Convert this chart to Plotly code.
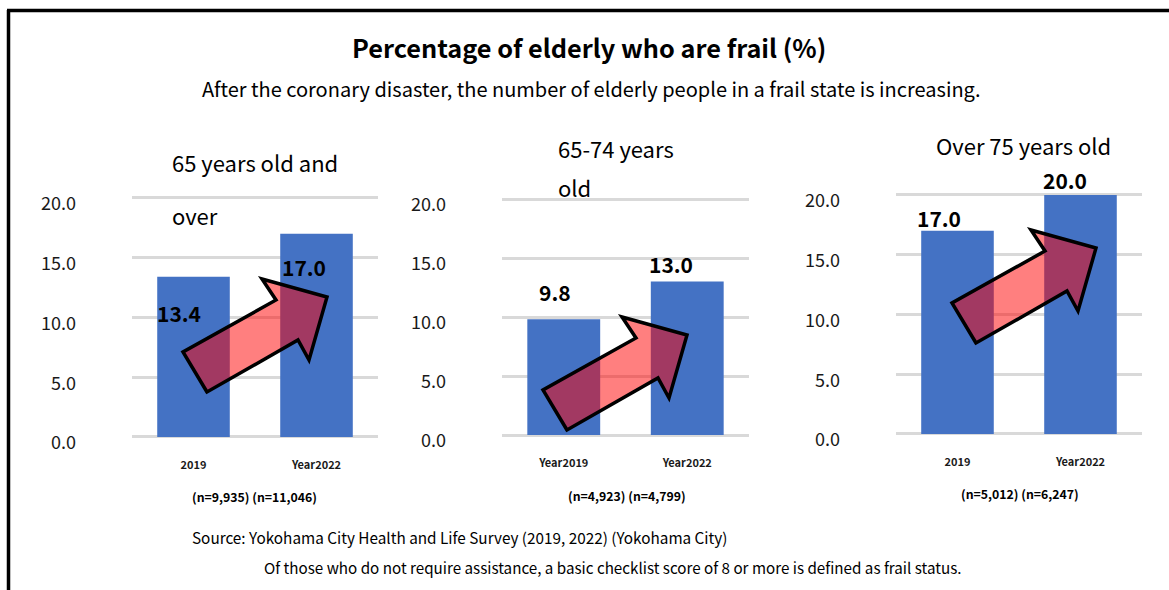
import plotly.graph_objects as go

# ---- data -------------------------------------------------------------
panel_titles = [["65 years old and", "over"], ["65-74 years", "old"], ["Over 75 years old"]]
categories = [["2019", "Year2022"], ["Year2019", "Year2022"], ["2019", "Year2022"]]
frail_pct = [[13.4, 17.0], [9.8, 13.0], [17.0, 20.0]]
sample_sizes = ["(n=9,935) (n=11,046)", "(n=4,923) (n=4,799)", "(n=5,012) (n=6,247)"]
y_ticks = [0, 5, 10, 15, 20]
y_tick_text = ["0.0", "5.0", "10.0", "15.0", "20.0"]

title = "Percentage of elderly who are frail (%)"
subtitle = "After the coronary disaster, the number of elderly people in a frail state is increasing."
source_note = "Source: Yokohama City Health and Life Survey (2019, 2022) (Yokohama City)"
definition_note = "Of those who do not require assistance, a basic checklist score of 8 or more is defined as frail status."

# ---- layout geometry (pixels) ------------------------------------------
W, H = 1169, 590
FONT = "Noto Sans CJK JP"
BAR_BLUE = "#4472C4"
GRID = "#D9D9D9"

# plot boxes: x-left, x-right, y pixel of 0 and of 20
boxes = [(132, 378, 437, 198), (502, 749, 435, 199), (896, 1142, 434, 195)]
# data-label offsets (dx, dy) in px from the top centre of each bar
label_offsets = [[(-15, -36), (-13, -33)], [(-9, 27), (-16, 18)], [(-19, 13), (-16, 15)]]
# panel heading anchors (left x, centre y of each line)
heading_pos = [[(170, 162), (170, 215)], [(556, 148), (556, 187)], [(934, 145)]]
# x-centre and y of the sample-size line
n_pos = [(255, 497), (627, 496), (1020, 494)]
# tail corner of each trend arrow
arrow_anchor = [(207, 392), (567, 430), (976, 343)]
# arrow outline relative to its tail corner (px, y downward)
arrow_outline = [(0, 0), (-24, -40), (69, -92), (55, -113), (120, -95),
                 (102, -32), (91, -52)]


def px_x(x):
    return x / W


def px_y(y):
    return (H - y) / H


fig = go.Figure()
pad = 0.15
for i, (xl, xr, y0, y20) in enumerate(boxes):
    n = "" if i == 0 else str(i + 1)
    xa, ya = "x" + n, "y" + n
    fig.add_trace(go.Bar(
        x=categories[i], y=frail_pct[i], xaxis=xa, yaxis=ya,
        marker=dict(color=BAR_BLUE, line=dict(width=0)), width=0.59,
        hoverinfo="skip", showlegend=False,
    ))
    unit = (y0 - y20) / 20.0
    bottom = y0 + pad * unit
    top = y20 - pad * unit
    fig.layout["xaxis" + n] = dict(
        type="category", categoryorder="array", categoryarray=categories[i],
        domain=[px_x(xl), px_x(xr)], anchor=ya, range=[-0.5, 1.5],
        showgrid=False, zeroline=False, showline=False, ticks="",
        tickfont=dict(family=FONT, size=11, color="#1a1a1a", weight="bold"),
        ticklabelstandoff=18, fixedrange=True, automargin=False,
    )
    fig.layout["yaxis" + n] = dict(
        domain=[px_y(bottom), px_y(top)], anchor=xa, range=[-pad, 20 + pad],
        tickvals=y_ticks, ticktext=y_tick_text, showgrid=True,
        gridcolor=GRID, gridwidth=2.5, zeroline=False, showline=False,
        ticks="", tickfont=dict(family=FONT, size=18, color="#1a1a1a"),
        ticklabelstandoff=55, ticklabelshift=6, fixedrange=True,
        automargin=False,
    )

    # value labels above / inside the bars (x given as category index)
    for j, v in enumerate(frail_pct[i]):
        dx, dy = label_offsets[i][j]
        fig.add_annotation(
            x=j, y=v, xref=xa, yref=ya, text=f"{v:.1f}",
            showarrow=False, xshift=dx, yshift=dy, xanchor="center", yanchor="middle",
            font=dict(family=FONT, size=21, color="#000000", weight="bold"),
        )

    # panel heading (wrapped over lines)
    for line, (hx, hy) in zip(panel_titles[i], heading_pos[i]):
        fig.add_annotation(
            x=px_x(hx), y=px_y(hy), xref="paper", yref="paper", text=line,
            showarrow=False, xanchor="left", yanchor="middle",
            font=dict(family=FONT, size=22, color="#000000"),
        )

    # sample size line
    nx, ny = n_pos[i]
    fig.add_annotation(
        x=px_x(nx), y=px_y(ny), xref="paper", yref="paper", text=sample_sizes[i],
        showarrow=False, xanchor="center", yanchor="middle",
        font=dict(family=FONT, size=12.3, color="#000000", weight="bold"),
    )

    # rising trend arrow
    ax, ay = arrow_anchor[i]
    pts = [(px_x(ax + ox), px_y(ay + oy)) for ox, oy in arrow_outline]
    path = "M " + " L ".join(f"{x:.5f},{y:.5f}" for x, y in pts) + " Z"
    fig.add_shape(
        type="path", path=path, xref="paper", yref="paper", layer="above",
        fillcolor="rgba(255,0,0,0.5)", line=dict(color="#000000", width=3.5),
    )

# headline and notes
fig.add_annotation(
    x=px_x(589), y=px_y(47), xref="paper", yref="paper", text=title,
    showarrow=False, xanchor="center", yanchor="middle",
    font=dict(family=FONT, size=25.3, color="#000000", weight="bold"),
)
fig.add_annotation(
    x=px_x(591), y=px_y(89), xref="paper", yref="paper", text=subtitle,
    showarrow=False, xanchor="center", yanchor="middle",
    font=dict(family=FONT, size=20, color="#000000"),
)
fig.add_annotation(
    x=px_x(190), y=px_y(537), xref="paper", yref="paper", text=source_note,
    showarrow=False, xanchor="left", yanchor="middle",
    font=dict(family=FONT, size=15.3, color="#000000"),
)
fig.add_annotation(
    x=px_x(262), y=px_y(567), xref="paper", yref="paper", text=definition_note,
    showarrow=False, xanchor="left", yanchor="middle",
    font=dict(family=FONT, size=15.2, color="#000000"),
)

# outer frame (left and top edges)
fig.add_shape(type="line", xref="paper", yref="paper",
              x0=px_x(8.5), x1=px_x(8.5), y0=px_y(10), y1=px_y(H + 5),
              line=dict(color="#000000", width=3.5), layer="above")
fig.add_shape(type="line", xref="paper", yref="paper",
              x0=px_x(7), x1=px_x(W + 5), y0=px_y(10.5), y1=px_y(10.5),
              line=dict(color="#000000", width=3.5), layer="above")

fig.update_layout(
    width=W, height=H, margin=dict(l=0, r=0, t=0, b=0, autoexpand=False),
    paper_bgcolor="#FFFFFF", plot_bgcolor="#FFFFFF",
    bargap=0.41, showlegend=False,
)

fig.write_html("out.html")
